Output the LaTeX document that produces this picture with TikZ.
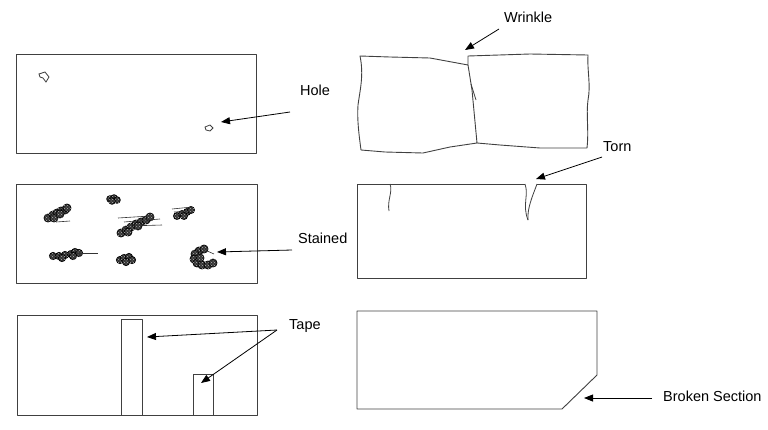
\documentclass[tikz,border=0pt]{standalone}
\usepackage{fontspec}
\setmainfont{Liberation Sans}
\usetikzlibrary{patterns,arrows.meta}
\begin{document}
\begin{tikzpicture}[x=1pt,y=-1pt,
  outline/.style={draw=black!75, line width=0.9pt, line join=round},
  thinline/.style={draw=black!75, line width=0.8pt},
  lbl/.style={font=\fontsize{14.5}{17}\selectfont, inner sep=0pt, anchor=west},
  pointer/.style={draw=black, line width=0.8pt, -{Triangle[length=9pt,width=7pt]}},
  stain/.style={fill=black!80, postaction={pattern=crosshatch dots, pattern color=black!30}, draw=black, line width=0.8pt},
  streak/.style={draw=black!80, line width=0.6pt}]
\useasboundingbox (0,0) rectangle (768,429);

% ---------- Hole ----------
\draw[outline] (16,54) rectangle (256,153);
\draw[thinline] (39,74) -- (45,72) -- (49,77) -- (46,82) -- (43,78) -- (40,77) -- cycle;
\draw[thinline] (205,127) -- (210,125) -- (213,128) -- (210,131) -- (206,130) -- cycle;
\node[lbl] (hole) at (300,90) {Hole};
\coordinate (holeS) at (290,112);
\coordinate (holeT) at (221,122);
\draw[pointer] (holeS) -- (holeT);

% ---------- Stained ----------
\draw[outline] (16,184) rectangle (257,283);
% small blob top
\foreach \p in {(110,199),(114,198),(117,200),(112,201)}
  \path[stain] \p circle [radius=3.3pt];
% left upper blob
\foreach \p in {(48,218),(53,215),(57,213),(61,211),(65,210),(67,208),(54,218),(60,214)}
  \path[stain] \p circle [radius=4pt];
\draw[streak] (56,222) -- (70,221);
% middle blob
\foreach \p in {(121,233),(126,230),(131,227),(136,224),(141,222),(146,220),(150,217),(128,232),(138,226)}
  \path[stain] \p circle [radius=4pt];
\draw[streak] (124,222) -- (160,219);
\draw[streak] (128,226) -- (162,225);
\draw[streak] (118,218) -- (150,216);
% right upper blob
\foreach \p in {(177,216),(182,214),(187,212),(191,210),(184,216)}
  \path[stain] \p circle [radius=3.5pt];
\draw[streak] (172,209) -- (192,207);
\draw[streak] (174,212) -- (190,211);
% left lower blob
\foreach \p in {(53,256),(59,256),(65,255),(71,254),(75,252),(79,253),(62,258),(73,256)}
  \path[stain] \p circle [radius=3.6pt];
\draw[streak] (76,253) -- (98,253);
% middle lower blob
\foreach \p in {(120,260),(124,258),(129,257),(132,260),(126,262)}
  \path[stain] \p circle [radius=3.6pt];
% C-shaped blob
\foreach \p in {(199,251),(195,254),(194,259),(197,263),(202,265),(208,265),(213,263),(204,249),(200,258)}
  \path[stain] \p circle [radius=4pt];
\draw[streak] (205,250) -- (214,254);
\node[lbl] (stained) at (298,238) {Stained};
\coordinate (stainS) at (292,250);
\coordinate (stainT) at (217,252);
\draw[pointer] (stainS) -- (stainT);

% ---------- Tape ----------
\draw[outline] (17,315) rectangle (257,415);
\draw[outline] (121,319) rectangle (142,415);
\draw[outline] (193,374) rectangle (213,415);
\node[lbl] (tape) at (289,326) {Tape};
\coordinate (tapeS) at (277,330);
\coordinate (tapeT1) at (147,337);
\coordinate (tapeT2) at (201,383);
\draw[pointer] (tapeS) -- (tapeT1);
\draw[pointer] (tapeS) -- (tapeT2);

% ---------- Wrinkle ----------
\draw[outline] (468,65) -- (430,58) -- (390,57) -- (360,56)
  .. controls (364,75) and (360,90) .. (358,105)
  .. controls (357,120) and (359,135) .. (361,150)
  -- (385,152) -- (423,153) -- (450,147) -- (477,143) -- (500,145) -- (540,148) -- (587,148)
  .. controls (589,130) and (586,115) .. (588,100)
  .. controls (591,85) and (587,70) .. (588,55)
  -- (530,54) -- (468,56) -- (468,65) -- (472,90) -- (477,143);
\draw[thinline] (471,84) -- (476,100);
\node[lbl] (wrinkle) at (504,17) {Wrinkle};
\coordinate (wrinkleS) at (499,29);
\coordinate (wrinkleT) at (465,50);
\draw[pointer] (wrinkleS) -- (wrinkleT);

% ---------- Torn ----------
\draw[outline] (525,184) -- (357,184) -- (357,278) -- (586,278) -- (586,184) -- (537,184);
\draw[thinline] (525,184) .. controls (529,195) and (522,205) .. (528,220);
\draw[thinline] (537,184) .. controls (533,195) and (527,208) .. (528,220);
\draw[thinline] (390,184) .. controls (393,192) and (387,200) .. (389,211);
\node[lbl] (torn) at (603,147) {Torn};
\coordinate (tornS) at (602,157);
\coordinate (tornT) at (536,179);
\draw[pointer] (tornS) -- (tornT);

% ---------- Broken Section ----------
\draw[outline] (357,311) -- (597,311) -- (597,375) -- (562,409) -- (357,409) -- cycle;
\node[lbl] (broken) at (663,396) {Broken Section};
\coordinate (brokenS) at (652,398);
\coordinate (brokenT) at (584,398);
\draw[pointer] (brokenS) -- (brokenT);
\end{tikzpicture}
\end{document}
